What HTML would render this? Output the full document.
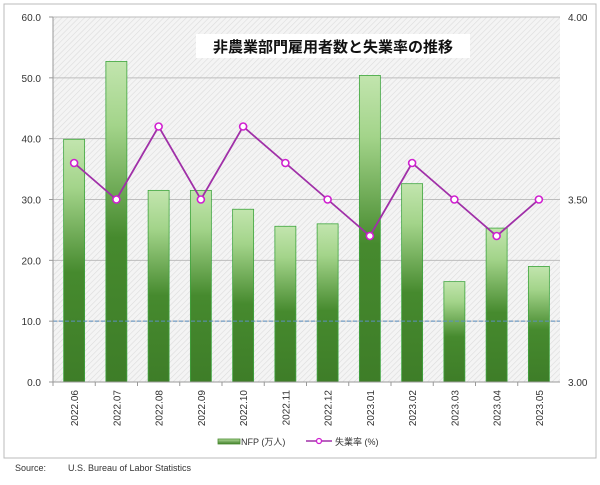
<!DOCTYPE html>
<html><head><meta charset="utf-8"><style>
body{margin:0;background:#fff;width:600px;height:480px;overflow:hidden;font-family:"Liberation Sans","Noto Sans CJK JP",sans-serif}
</style></head><body>
<svg id="c" width="600" height="480" xmlns="http://www.w3.org/2000/svg">
<defs>
<pattern id="hatch" width="4" height="4" patternUnits="userSpaceOnUse" patternTransform="rotate(45)"><rect width="4" height="4" fill="#f4f4f4"/><line x1="0" y1="0" x2="0" y2="4" stroke="#dcdcdc" stroke-width="1.2"/></pattern>
<linearGradient id="bg" x1="0" y1="1" x2="0" y2="0"><stop offset="0" stop-color="#3e7d28"/><stop offset="0.45" stop-color="#468a2e"/><stop offset="0.8" stop-color="#a3d48a"/><stop offset="1" stop-color="#c2e5ae"/></linearGradient>
<linearGradient id="lg" x1="0" y1="1" x2="0" y2="0"><stop offset="0" stop-color="#3e7d28"/><stop offset="1" stop-color="#b4dd9c"/></linearGradient>
</defs>
<rect x="4" y="4" width="592" height="454" fill="#fff" stroke="#bbb"/>
<rect x="53" y="17" width="507" height="365" fill="url(#hatch)"/>
<g id="g"></g>
<rect x="196" y="34" width="274" height="24" fill="#fff"/>
<text x="333" y="52" text-anchor="middle" font-size="15" font-weight="bold" fill="#111">非農業部門雇用者数と失業率の推移</text>
<rect x="218" y="439" width="22" height="5" fill="url(#lg)" stroke="#4a8c30" stroke-width="0.8"/>
<text x="241" y="445" font-size="9" fill="#333">NFP (万人)</text>
<line x1="306" y1="441" x2="332" y2="441" stroke="#a030a8" stroke-width="1.5"/>
<circle cx="319" cy="441" r="2.5" fill="#fff" stroke="#d020d0" stroke-width="1.3"/>
<text x="335" y="445" font-size="9" fill="#333">失業率 (%)</text>
<text x="15" y="471" font-size="9" fill="#333">Source:</text>
<text x="68" y="471" font-size="9" fill="#333">U.S. Bureau of Labor Statistics</text>
</svg>
<script>
const categories=["2022.06","2022.07","2022.08","2022.09","2022.10","2022.11","2022.12","2023.01","2023.02","2023.03","2023.04","2023.05"];
const nfp=[39.9,52.7,31.5,31.5,28.4,25.6,26.0,50.4,32.6,16.5,25.3,19.0];
const rate=[3.6,3.5,3.7,3.5,3.7,3.6,3.5,3.4,3.6,3.5,3.4,3.5];
const leftTicks=[0,10,20,30,40,50,60];
const rightTicks=[3.0,3.5,4.0];
const L=53,R=560,T=17,B=382;
const yL=v=>B-(v/60)*(B-T);
const yR=v=>B-((v-3)/1)*(B-T);
const bw=(R-L)/categories.length;
const xC=i=>L+bw*(i+0.5);
const g=document.getElementById('g');
const NS="http://www.w3.org/2000/svg";
function mk(t,a){const e=document.createElementNS(NS,t);for(const k in a)e.setAttribute(k,a[k]);g.appendChild(e);return e;}
leftTicks.forEach(v=>{
  if(v>0){const l=mk('line',{x1:L,x2:R,y1:yL(v),y2:yL(v),stroke:'#bdbdbd','stroke-width':1});
  
  }
  const t=mk('text',{x:L-12,y:yL(v)+4,'text-anchor':'end','font-size':10,fill:'#333'});t.textContent=v.toFixed(1);
  
  
  const k=mk('line',{x1:L-4,x2:L,y1:yL(v),y2:yL(v),stroke:'#999'});
  
  
});
rightTicks.forEach(v=>{
  const t=mk('text',{x:R+8,y:yR(v)+4,'font-size':10,fill:'#333'});t.textContent=v.toFixed(2);
  
  
});
nfp.forEach((v,i)=>{
  const r=mk('rect',{x:xC(i)-10.5,y:yL(v),width:21,height:B-yL(v),fill:'url(#bg)',stroke:'#3fa53f','stroke-width':0.8});
  
  
});
const ref=mk('line',{x1:L,x2:R,y1:yL(10),y2:yL(10),stroke:'#5b8fc0','stroke-width':1,'stroke-dasharray':'4,2'});


const ax=mk('line',{x1:L,x2:R,y1:B,y2:B,stroke:'#999'});


const axl=mk('line',{x1:L,x2:L,y1:T,y2:B,stroke:'#999'});


categories.forEach((c,i)=>{
  const k=mk('line',{x1:L+bw*i,x2:L+bw*i,y1:B,y2:B+4,stroke:'#999'});
  
  
  const x=xC(i)+4,y=B+8;
  const t=mk('text',{x:x,y:y,'text-anchor':'end','font-size':10,fill:'#333',transform:`rotate(-90 ${x} ${y})`});t.textContent=c;
  
  
});
const pts=rate.map((v,i)=>xC(i)+','+yR(v)).join(' ');
const pl=mk('polyline',{points:pts,fill:'none',stroke:'#a030a8','stroke-width':1.8});


rate.forEach((v,i)=>{
  const c=mk('circle',{cx:xC(i),cy:yR(v),r:3.5,fill:'#fff',stroke:'#d020d0','stroke-width':1.6});
  
  
});
</script>
</body></html>
